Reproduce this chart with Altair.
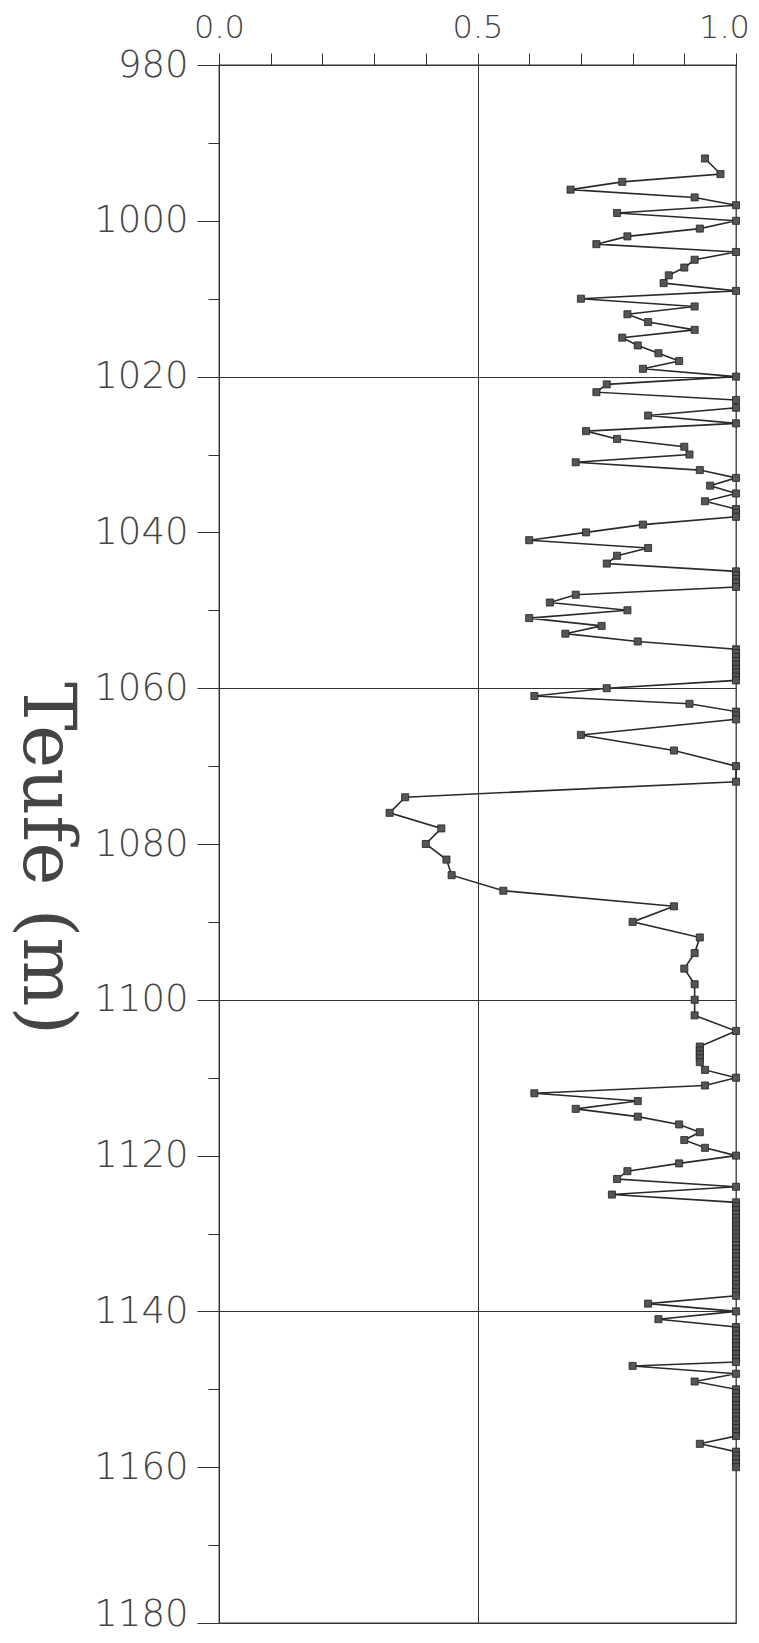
import altair as alt
import pandas as pd

# Depth (m) of each sample and its value (0..1)
depth_m = [
    992, 994, 995, 996, 997, 998, 999, 1000, 1001, 1002, 1003, 1004,
    1005, 1006, 1007, 1008, 1009, 1010, 1011, 1012, 1013, 1014, 1015, 1016,
    1017, 1018, 1019, 1020, 1021, 1022, 1023, 1024, 1025, 1026, 1027, 1028,
    1029, 1030, 1031, 1032, 1033, 1034, 1035, 1036, 1037, 1037.5, 1038,
    1039, 1040, 1041, 1042, 1043, 1044, 1045, 1045.5, 1046, 1046.5, 1047,
    1048, 1049, 1050, 1051, 1052, 1053, 1054,
    1055, 1055.5, 1056, 1056.5, 1057, 1057.5, 1058, 1058.5, 1059,
    1060, 1061, 1062, 1063, 1063.5, 1064, 1066, 1068, 1070, 1072,
    1074, 1076, 1078, 1080, 1082, 1084, 1086, 1088, 1090, 1092,
    1094, 1096, 1098, 1100, 1102, 1104, 1106, 1106.5, 1107, 1107.5, 1108,
    1109, 1110, 1111, 1112, 1113, 1114, 1115, 1116, 1117, 1118, 1119,
    1120, 1121, 1122, 1123, 1124, 1125,
    1126, 1126.5, 1127, 1127.5, 1128, 1128.5, 1129, 1129.5, 1130, 1130.5,
    1131, 1131.5, 1132, 1132.5, 1133, 1133.5, 1134, 1134.5, 1135, 1135.5,
    1136, 1136.5, 1137, 1137.5, 1138,
    1139, 1140, 1141,
    1142, 1142.5, 1143, 1143.5, 1144, 1144.5, 1145, 1145.5, 1146, 1146.5,
    1147, 1148, 1149,
    1150, 1150.5, 1151, 1151.5, 1152, 1152.5, 1153, 1153.5, 1154, 1154.5,
    1155, 1155.5, 1156, 1157, 1158, 1158.5, 1159, 1159.5, 1160,
]

fraction = [
    0.94, 0.97, 0.78, 0.68, 0.92, 1.00, 0.77, 1.00, 0.93, 0.79, 0.73, 1.00,
    0.92, 0.90, 0.87, 0.86, 1.00, 0.70, 0.92, 0.79, 0.83, 0.92, 0.78, 0.81,
    0.85, 0.89, 0.82, 1.00, 0.75, 0.73, 1.00, 1.00, 0.83, 1.00, 0.71, 0.77,
    0.90, 0.91, 0.69, 0.93, 1.00, 0.95, 1.00, 0.94, 1.00, 1.00, 1.00,
    0.82, 0.71, 0.60, 0.83, 0.77, 0.75, 1.00, 1.00, 1.00, 1.00, 1.00,
    0.69, 0.64, 0.79, 0.60, 0.74, 0.67, 0.81,
    1.00, 1.00, 1.00, 1.00, 1.00, 1.00, 1.00, 1.00, 1.00,
    0.75, 0.61, 0.91, 1.00, 1.00, 1.00, 0.70, 0.88, 1.00, 1.00,
    0.36, 0.33, 0.43, 0.40, 0.44, 0.45, 0.55, 0.88, 0.80, 0.93,
    0.92, 0.90, 0.92, 0.92, 0.92, 1.00, 0.93, 0.93, 0.93, 0.93, 0.93,
    0.94, 1.00, 0.94, 0.61, 0.81, 0.69, 0.81, 0.89, 0.93, 0.90, 0.94,
    1.00, 0.89, 0.79, 0.77, 1.00, 0.76,
    1.00, 1.00, 1.00, 1.00, 1.00, 1.00, 1.00, 1.00, 1.00, 1.00,
    1.00, 1.00, 1.00, 1.00, 1.00, 1.00, 1.00, 1.00, 1.00, 1.00,
    1.00, 1.00, 1.00, 1.00, 1.00,
    0.83, 1.00, 0.85,
    1.00, 1.00, 1.00, 1.00, 1.00, 1.00, 1.00, 1.00, 1.00, 1.00,
    0.80, 1.00, 0.92,
    1.00, 1.00, 1.00, 1.00, 1.00, 1.00, 1.00, 1.00, 1.00, 1.00,
    1.00, 1.00, 1.00, 0.93, 1.00, 1.00, 1.00, 1.00, 1.00,
]

x_tick_values = [0.0, 0.1, 0.2, 0.3, 0.4, 0.5, 0.6, 0.7, 0.8, 0.9, 1.0]
y_tick_values = [980, 990, 1000, 1010, 1020, 1030, 1040, 1050, 1060, 1070,
                 1080, 1090, 1100, 1110, 1120, 1130, 1140, 1150, 1160, 1170,
                 1180]
y_title = "Teufe (m)"

df = pd.DataFrame({"depth": depth_m, "value": fraction})

INK = "#333333"

x_enc = alt.X(
    "value:Q",
    scale=alt.Scale(domain=[0, 1], nice=False, zero=False),
    axis=alt.Axis(
        orient="top",
        values=x_tick_values,
        title=None,
        labelExpr="(datum.value < 0.001 || abs(datum.value - 0.5) < 0.001 || datum.value > 0.999) ? format(datum.value, '.1f') : ''",
        labelFont="DejaVu Sans",
        labelFontWeight=300,
        labelFontSize=32,
        labelColor="#444444",
        labelPadding=9,
        labelFlush=False,
        labelOffset={"condition": {"test": "datum.value > 0.999", "value": -12}, "value": 0},
        tickSize=12,
        tickColor=INK,
        tickWidth=1,
        domain=True,
        domainColor=INK,
        grid=True,
        gridColor=INK,
        gridWidth=1,
        gridOpacity={"condition": {"test": "abs(datum.value - 0.5) < 0.001", "value": 1}, "value": 0},
    ),
)

y_enc = alt.Y(
    "depth:Q",
    scale=alt.Scale(domain=[980, 1180], reverse=True, nice=False, zero=False),
    axis=alt.Axis(
        orient="left",
        values=y_tick_values,
        format="d",
        labelExpr="datum.value % 20 === 0 ? datum.label : ''",
        labelFont="DejaVu Sans",
        labelFontWeight=300,
        labelFontSize=37,
        labelColor="#444444",
        labelPadding=9,
        labelOffset={"condition": {"test": "datum.value === 1180", "value": -9}, "value": 0},
        tickSize={"condition": {"test": "datum.value % 20 === 0", "value": 22}, "value": 11},
        tickColor=INK,
        tickWidth=1,
        domain=True,
        domainColor=INK,
        grid=True,
        gridColor=INK,
        gridWidth=1,
        gridOpacity={"condition": {"test": "datum.value % 40 === 20", "value": 1}, "value": 0},
        title=y_title,
        titleFont="DejaVu Serif",
        titleFontWeight="normal",
        titleFontSize=73,
        titleColor="#444444",
        titleAngle=90,
        titleAlign="center",
        titleBaseline="middle",
        titleX=-174,
        titleY=793,
    ),
)

line = alt.Chart(df).mark_line(color="#2a2a2a", strokeWidth=1.6).encode(
    x=x_enc, y=y_enc, order=alt.Order("depth:Q")
)

pts = alt.Chart(df).mark_point(
    shape="square", filled=True, size=50, color="#555555",
    stroke="#222222", strokeWidth=0.8, opacity=1
).encode(x=x_enc, y=y_enc)

chart = alt.layer(line, pts).properties(
    width=517,
    height=1558,
    autosize=alt.AutoSizeParams(type="none"),
    padding={"left": 211, "top": 57, "right": 15, "bottom": 10},
    background="white",
).configure_view(stroke=INK, strokeWidth=1.3)

chart.save("out.html", embed_options={"renderer": "svg", "actions": False})
